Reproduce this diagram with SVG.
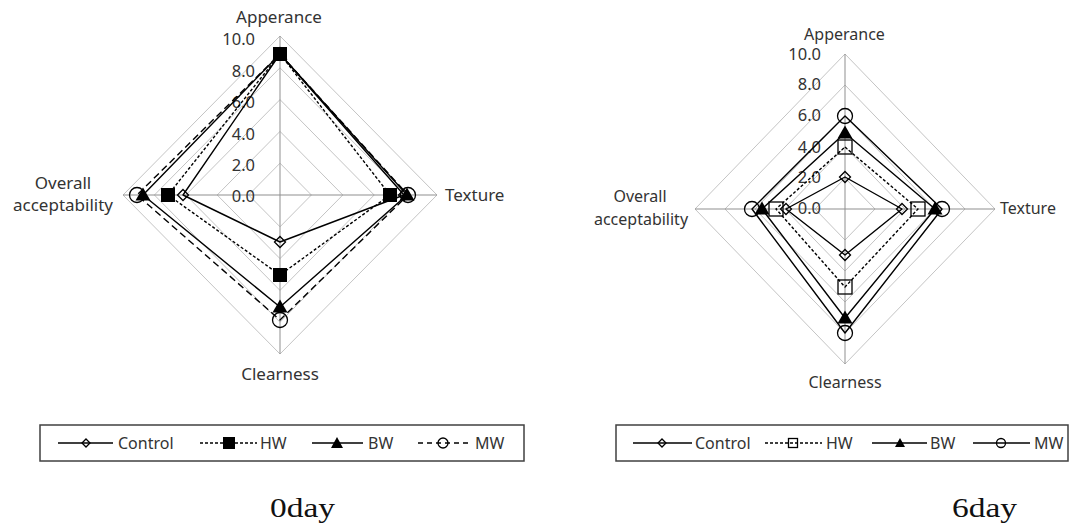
<svg xmlns="http://www.w3.org/2000/svg" xmlns:xlink="http://www.w3.org/1999/xlink" width="1071" height="528" viewBox="0 0 1071 528">
<style>
.ring{fill:none;stroke:#c4c4c4;stroke-width:1}
.axis{stroke:#8f8f8f;stroke-width:1}
.s{fill:none;stroke:#000;stroke-width:1.4;stroke-linejoin:round}
.dot{stroke-dasharray:3 2}
.dash{stroke-dasharray:7 4}
.t{font-family:"Noto Sans","Open Sans",sans-serif;fill:#333}
.tick{font-size:16.5px;text-anchor:end}
.lab{font-size:17px}
.lab2{font-size:16px}
.mid{text-anchor:middle}
.lgbox{fill:#fff;stroke:#404040;stroke-width:1.5}
.lgt{font-size:16px}
.cap{font-family:"Liberation Serif","DejaVu Serif",serif;font-size:27px;fill:#111}
.ho{fill:none;stroke:#000;stroke-width:1.3}
.fi{fill:#000}
</style>
<defs>
<path id="dia" class="ho" d="M0,-5.5 L5.5,0 L0,5.5 L-5.5,0 Z"/>
<rect id="sqf" class="fi" x="-7" y="-7" width="14" height="14"/>
<rect id="sqo" class="ho" x="-7" y="-7" width="14" height="14"/>
<path id="tri" class="fi" d="M0,-7.5 L7.5,5.5 L-7.5,5.5 Z"/>
<circle id="cir" class="ho" r="7.5"/>
<path id="sdia" class="ho" d="M0,-4 L4,0 L0,4 L-4,0 Z"/>
<rect id="ssqf" class="fi" x="-6" y="-6" width="12" height="12"/>
<rect id="ssqo" class="ho" x="-4.5" y="-4.5" width="9" height="9"/>
<path id="stri" class="fi" d="M0,-6 L6,5 L-6,5 Z"/>
<path id="stri2" class="fi" d="M0,-5 L5,4 L-5,4 Z"/>
<circle id="scir" class="ho" r="5"/>
<circle id="scir2" class="ho" r="4.5"/>
</defs>

<!-- ===== 0 day chart ===== -->
<g id="chart0">
  <g id="grid0">
    <polygon class="ring" points="280,163.2 311.4,195 280,226.8 248.6,195"/>
    <polygon class="ring" points="280,131.4 342.8,195 280,258.6 217.2,195"/>
    <polygon class="ring" points="280,99.6 374.2,195 280,290.4 185.8,195"/>
    <polygon class="ring" points="280,67.8 405.6,195 280,322.2 154.4,195"/>
    <polygon class="ring" points="280,36 437,195 280,354 123,195"/>
    <line class="axis" x1="280" y1="36" x2="280" y2="354"/>
    <line class="axis" x1="123" y1="195" x2="437" y2="195"/>
  </g>
  <g id="ticks0" class="t tick">
    <text x="255" y="45">10.0</text>
    <text x="255" y="77">8.0</text>
    <text x="255" y="108">6.0</text>
    <text x="255" y="140">4.0</text>
    <text x="255" y="171">2.0</text>
    <text x="255" y="202">0.0</text>
  </g>
  <g id="labels0" class="t lab">
    <text class="mid" x="279" y="23">Apperance</text>
    <text x="445" y="201">Texture</text>
    <text class="mid" x="280" y="380">Clearness</text>
    <text class="mid" x="63" y="189">Overall</text>
    <text class="mid" x="63" y="211">acceptability</text>
  </g>
  <g id="series0">
    <polygon class="s" points="280,54 404,195 280,242 183,195"/>
    <polygon class="s dot" points="280,54 390,195 280,275 168,195"/>
    <polygon class="s" points="280,54 407,195 280,307 143,195"/>
    <polygon class="s dash" points="280,54 408,195 280,320 137,195"/>
    <use href="#dia" x="280" y="54"/><use href="#dia" x="404" y="195"/><use href="#dia" x="280" y="242"/><use href="#dia" x="183" y="195"/>
    <use href="#sqf" x="280" y="54"/><use href="#sqf" x="390" y="195"/><use href="#sqf" x="280" y="275"/><use href="#sqf" x="168" y="195"/>
    <use href="#tri" x="280" y="54"/><use href="#tri" x="407" y="195"/><use href="#tri" x="280" y="307"/><use href="#tri" x="143" y="195"/>
    <use href="#cir" x="408" y="195"/><use href="#cir" x="280" y="320"/><use href="#cir" x="137" y="195"/>
  </g>
  <g id="legend0">
    <rect class="lgbox" x="40" y="425" width="484" height="36"/>
    <line class="s" x1="58" y1="443" x2="113" y2="443"/><use href="#sdia" x="86" y="443"/>
    <text class="t lgt" x="118" y="449">Control</text>
    <line class="s dot" x1="200" y1="443" x2="257" y2="443"/><use href="#ssqf" x="229" y="443"/>
    <text class="t lgt" x="260" y="449">HW</text>
    <line class="s" x1="312" y1="443" x2="363" y2="443"/><use href="#stri" x="337" y="443"/>
    <text class="t lgt" x="368" y="449">BW</text>
    <line class="s" style="stroke-dasharray:5 4" x1="418" y1="443" x2="470" y2="443"/><use href="#scir" x="443" y="443"/>
    <text class="t lgt" x="475" y="449">MW</text>
  </g>
  <text class="cap" x="270" y="517" textLength="65" lengthAdjust="spacingAndGlyphs">0day</text>
</g>

<!-- ===== 6 day chart ===== -->
<g id="chart6">
  <g id="grid6">
    <polygon class="ring" points="845,178 875,209 845,240 815,209"/>
    <polygon class="ring" points="845,147 905,209 845,271 785,209"/>
    <polygon class="ring" points="845,116 935,209 845,302 755,209"/>
    <polygon class="ring" points="845,85 965,209 845,333 725,209"/>
    <polygon class="ring" points="845,54 995,209 845,364 695,209"/>
    <line class="axis" x1="845" y1="54" x2="845" y2="364"/>
    <line class="axis" x1="695" y1="209" x2="995" y2="209"/>
  </g>
  <g id="ticks6" class="t tick">
    <text x="821" y="60">10.0</text>
    <text x="821" y="90">8.0</text>
    <text x="821" y="121">6.0</text>
    <text x="821" y="153">4.0</text>
    <text x="821" y="183">2.0</text>
    <text x="821" y="214">0.0</text>
  </g>
  <g id="labels6" class="t lab2">
    <text class="mid" x="844.5" y="40">Apperance</text>
    <text x="1000" y="214">Texture</text>
    <text class="mid" x="845" y="388">Clearness</text>
    <text class="mid" x="640" y="202">Overall</text>
    <text class="mid" x="641" y="225">acceptability</text>
  </g>
  <g id="series6">
    <polygon class="s" points="845,177 902,209 845,255 786,209"/>
    <polygon class="s dot" points="845,147 918,209 845,287 776,209"/>
    <polygon class="s" points="845,133 935,209 845,318 762,209"/>
    <polygon class="s" points="845,116 942,209 845,333 752,209"/>
    <use href="#dia" x="845" y="177"/><use href="#dia" x="902" y="209"/><use href="#dia" x="845" y="255"/><use href="#dia" x="786" y="209"/>
    <use href="#sqo" x="845" y="147"/><use href="#sqo" x="918" y="209"/><use href="#sqo" x="845" y="287"/><use href="#sqo" x="776" y="209"/>
    <use href="#tri" x="845" y="133"/><use href="#tri" x="935" y="209"/><use href="#tri" x="845" y="318"/><use href="#tri" x="762" y="209"/>
    <use href="#cir" x="845" y="116"/><use href="#cir" x="942" y="209"/><use href="#cir" x="845" y="333"/><use href="#cir" x="752" y="209"/>
  </g>
  <g id="legend6">
    <rect class="lgbox" x="616" y="425" width="452" height="36"/>
    <line class="s" x1="633" y1="443" x2="692" y2="443"/><use href="#sdia" x="662" y="443"/>
    <text class="t lgt" x="695" y="449">Control</text>
    <line class="s dot" x1="765" y1="443" x2="822" y2="443"/><use href="#ssqo" x="793" y="443"/>
    <text class="t lgt" x="826" y="449">HW</text>
    <line class="s" x1="872" y1="443" x2="927" y2="443"/><use href="#stri2" x="900" y="443"/>
    <text class="t lgt" x="930" y="449">BW</text>
    <line class="s" x1="973" y1="443" x2="1030" y2="443"/><use href="#scir2" x="1001" y="443"/>
    <text class="t lgt" x="1034" y="449">MW</text>
  </g>
  <text class="cap" x="952" y="517" textLength="65" lengthAdjust="spacingAndGlyphs">6day</text>
</g>
</svg>
